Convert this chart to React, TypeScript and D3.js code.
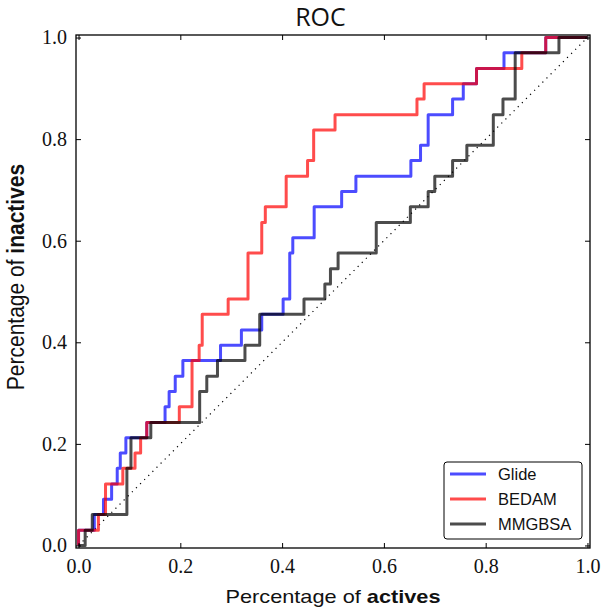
import * as d3 from "d3";
import React, { useEffect, useRef } from "react";

// ROC steps: fraction of actives (x) where the curve jumps to a new fraction of inactives (y)
const glideX = [0, 0, 0.031, 0.049, 0.065, 0.076, 0.082, 0.093, 0.134, 0.17, 0.178, 0.19, 0.205, 0.279, 0.32, 0.36, 0.402, 0.415, 0.421, 0.463, 0.517, 0.545, 0.653, 0.672, 0.687, 0.735, 0.756, 0.782, 0.836, 0.918, 1.0];
const glideY = [0, 0.03, 0.061, 0.091, 0.121, 0.152, 0.182, 0.212, 0.242, 0.273, 0.303, 0.333, 0.364, 0.394, 0.424, 0.455, 0.485, 0.576, 0.606, 0.667, 0.697, 0.727, 0.758, 0.788, 0.848, 0.879, 0.909, 0.939, 0.97, 1.0, 1.0];

const bedamX = [0, 0, 0.039, 0.053, 0.087, 0.111, 0.122, 0.134, 0.198, 0.223, 0.237, 0.243, 0.294, 0.333, 0.36, 0.367, 0.408, 0.45, 0.462, 0.504, 0.665, 0.679, 0.782, 0.871, 0.918, 1.0];
const bedamY = [0, 0.03, 0.061, 0.121, 0.152, 0.182, 0.212, 0.242, 0.273, 0.364, 0.394, 0.455, 0.485, 0.576, 0.636, 0.667, 0.727, 0.758, 0.818, 0.848, 0.879, 0.909, 0.939, 0.97, 1.0, 1.0];

const mmgbsaX = [0, 0.013, 0.027, 0.095, 0.103, 0.142, 0.238, 0.252, 0.273, 0.327, 0.356, 0.443, 0.484, 0.495, 0.51, 0.585, 0.652, 0.687, 0.7, 0.735, 0.763, 0.815, 0.834, 0.858, 0.944, 1.0];
const mmgbsaY = [0, 0.03, 0.061, 0.152, 0.212, 0.242, 0.303, 0.333, 0.364, 0.394, 0.455, 0.485, 0.515, 0.545, 0.576, 0.636, 0.667, 0.697, 0.727, 0.758, 0.788, 0.848, 0.879, 0.97, 1.0, 1.0];

const seriesNames = ["Glide", "BEDAM", "MMGBSA"];
const seriesColors = ["#0000ff", "#ff0000", "#000000"];
const tickValues = [0, 0.2, 0.4, 0.6, 0.8, 1.0];

const W = 604;
const H = 613;
const left = 76, right = 590, top = 35, bottom = 548;

const App = () => {
    const axRef = useRef<SVGGElement | null>(null);

    const xScale = d3.scaleLinear().domain([-0.005, 1.005]).range([left, right]);
    const yScale = d3.scaleLinear().domain([-0.005, 1.005]).range([bottom, top]);

    const series = [
        { x: glideX, y: glideY },
        { x: bedamX, y: bedamY },
        { x: mmgbsaX, y: mmgbsaY },
    ].map((s) => s.x.map((v, i) => [v, s.y[i]] as [number, number]));

    const line = d3.line<[number, number]>()
        .x((d) => xScale(d[0]))
        .y((d) => yScale(d[1]))
        .curve(d3.curveStepAfter);

    useEffect(() => {
        const g = d3.select(axRef.current);
        g.selectAll("*").remove();
        const fmt = d3.format(".1f");

        const bottomAx = g.append("g").attr("transform", `translate(0,${bottom})`)
            .call(d3.axisBottom(xScale).tickValues(tickValues).tickSize(-5).tickPadding(11).tickFormat(fmt as any));
        const leftAx = g.append("g").attr("transform", `translate(${left},0)`)
            .call(d3.axisLeft(yScale).tickValues(tickValues).tickSize(-5).tickPadding(9).tickFormat(fmt as any));
        g.append("g").attr("transform", `translate(0,${top})`)
            .call(d3.axisTop(xScale).tickValues(tickValues).tickSize(-5).tickFormat(() => ""));
        g.append("g").attr("transform", `translate(${right},0)`)
            .call(d3.axisRight(yScale).tickValues(tickValues).tickSize(-5).tickFormat(() => ""));

        g.selectAll(".domain").remove();
        g.selectAll(".tick line").attr("stroke", "#000").attr("stroke-width", 1);
        [bottomAx, leftAx].forEach((a) => {
            a.attr("font-family", null).attr("font-size", null);
            a.selectAll("text")
                .style("font-family", "'Liberation Serif', 'DejaVu Serif', serif")
                .style("font-size", "20px")
                .attr("fill", "#111");
        });
    }, []);

    const diag = d3.line<[number, number]>().x((d) => xScale(d[0])).y((d) => yScale(d[1]));

    return (
        <svg width={W} height={H} style={{ position: "absolute", left: 0, top: 0, background: "#fff" }}>
            <rect width={W} height={H} fill="#fff" />
            <text x={320.5} y={26} textAnchor="middle" fontFamily="'Open Sans', sans-serif" fontSize={25} fill="#111">ROC</text>

            <path d={diag([[0, 0], [1, 1]]) ?? ""} stroke="#000" strokeWidth={1.2} strokeDasharray="1.2 4.6" fill="none" />

            {series.map((pts, i) => (
                <path key={seriesNames[i]} d={line(pts) ?? ""} fill="none" stroke={seriesColors[i]}
                    strokeOpacity={0.7} strokeWidth={3} strokeLinejoin="round" />
            ))}

            <rect x={left} y={top} width={right - left} height={bottom - top} fill="none" stroke="#000" strokeWidth={1.3} />
            <g ref={axRef} />

            {/* legend */}
            <rect x={444} y={462} width={138} height={77} rx={3} fill="#fff" stroke="#000" strokeWidth={1} />
            {seriesNames.map((n, i) => (
                <g key={n} transform={`translate(0,${474 + i * 25})`}>
                    <line x1={450} x2={486} y1={0} y2={0} stroke={seriesColors[i]} strokeOpacity={0.7} strokeWidth={3} />
                    <text x={498} y={6} fontFamily="'Liberation Sans', Arial, sans-serif" fontSize={16.5} fill="#111">{n}</text>
                </g>
            ))}

            {/* axis labels */}
            <text x={0} y={0} transform="translate(333,603)" textAnchor="middle"
                fontFamily="'Liberation Sans', Arial, sans-serif" fontSize={19} fill="#111" textLength={215} lengthAdjust="spacingAndGlyphs">
                Percentage of <tspan fontWeight="bold">actives</tspan>
            </text>
            <text x={0} y={0} transform="translate(24,277) scale(1.15,1) rotate(-90)" textAnchor="middle"
                fontFamily="'Liberation Sans', Arial, sans-serif" fontSize={21} fill="#111">
                Percentage of <tspan fontWeight="bold">inactives</tspan>
            </text>
        </svg>
    );
};

export default App;
